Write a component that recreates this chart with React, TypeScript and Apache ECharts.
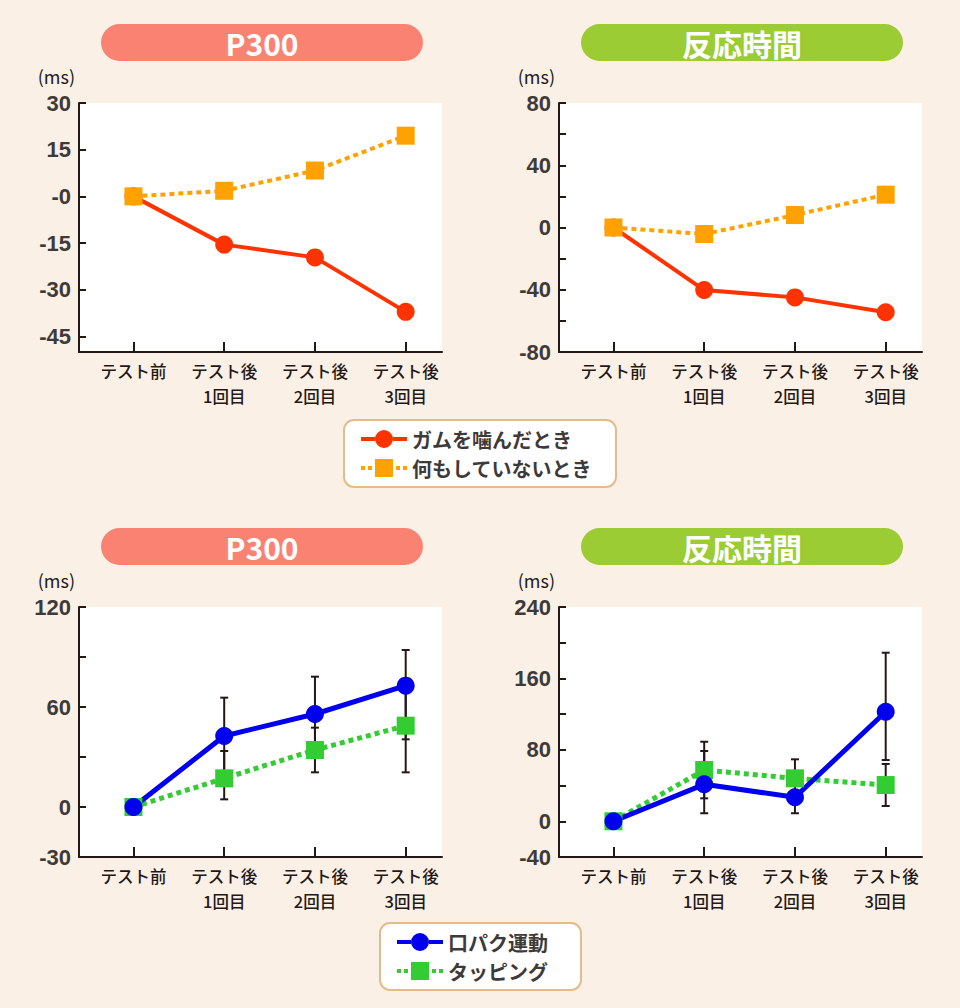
import React, { useEffect, useRef } from "react";
import * as echarts from "echarts";

// ---------- data ----------
const categories = ["テスト前", "テスト後\n1回目", "テスト後\n2回目", "テスト後\n3回目"];
const categoryPos = [0, 1, 2, 3];

// top charts
const gumP300 = [0, -15.5, -19.6, -37.1];
const restP300 = [0, 1.8, 8.3, 19.5];
const gumRT = [0, -40.2, -44.9, -54.5];
const restRT = [0, -4.2, 8.0, 21.1];

// bottom charts
const lipP300 = [0, 42.6, 55.8, 72.8];
const tapP300 = [0, 17.2, 34.2, 48.8];
const lipP300Low = [null, 19.6, 33.4, 40.6];
const lipP300High = [null, 65.6, 78.2, 94.2];
const tapP300Low = [null, 4.6, 20.8, 20.8];
const tapP300High = [null, 33.6, 47.6, 76.8];

const lipRT = [0, 41.4, 26.9, 122.7];
const tapRT = [0, 57.4, 48.1, 40.6];
const lipRTLow = [null, 9.0, 9.0, 68.6];
const lipRTHigh = [null, 78.7, 44.8, 188.8];
const tapRTLow = [null, 25.7, 26.8, 17.1];
const tapRTHigh = [null, 89.1, 69.4, 64.2];

// axis ticks / labels
const p300TopTicks = [30, 15, 0, -15, -30, -45];
const p300TopLabels = ["30", "15", "-0", "-15", "-30", "-45"];
const rtTopTicks = [80, 60, 40, 20, 0, -20, -40, -60, -80];
const rtTopLabels = [80, 40, 0, -40, -80];
const p300BotTicks = [120, 90, 60, 30, 0, -30];
const p300BotLabels = [120, 60, 0, -30];
const rtBotTicks = [240, 200, 160, 120, 80, 40, 0, -40];
const rtBotLabels = [240, 160, 80, 0, -40];

const titles = ["P300", "反応時間", "P300", "反応時間"];
const seriesNames = ["ガムを噛んだとき", "何もしていないとき", "口パク運動", "タッピング"];

// ---------- styles ----------
const AXIS = "#231815";
const NUM = "#3e3a39";
const RED = "#ff3300";
const ORANGE = "#ffa200";
const BLUE = "#0000ee";
const GREEN = "#33cc33";
const SALMON = "#fa8273";
const LIME = "#9bcc33";
const JP = '"Noto Sans CJK JP", sans-serif';

// legend icons (46 x 18 box)
const ICON_SOLID_CIRCLE =
  "path://M0,7H14V11H0Z M32,7H46V11H32Z M14,9a9,9 0 1,0 18,0a9,9 0 1,0 -18,0Z";
const ICON_DOTTED_SQUARE =
  "path://M0,7H4V11H0Z M7,7H11V11H7Z M14,0H32V18H14Z M35,7H39V11H35Z M42,7H46V11H42Z";

const grids = [
  { left: 79, top: 103, width: 363, height: 249 },
  { left: 559, top: 103, width: 363, height: 249 },
  { left: 79, top: 607, width: 363, height: 250 },
  { left: 559, top: 607, width: 363, height: 250 },
];

const yRanges = [
  { min: -50, max: 30, ticks: p300TopTicks, labels: p300TopTicks, fmt: (v: number) => p300TopLabels[p300TopTicks.indexOf(v)] ?? String(v) },
  { min: -80, max: 80, ticks: rtTopTicks, labels: rtTopLabels, fmt: (v: number) => String(v) },
  { min: -30, max: 120, ticks: p300BotTicks, labels: p300BotLabels, fmt: (v: number) => String(v) },
  { min: -40, max: 240, ticks: rtBotTicks, labels: rtBotLabels, fmt: (v: number) => String(v) },
];

const toPts = (arr: number[]) => arr.map((v, i) => [categoryPos[i], v]);
const toErr = (lo: (number | null)[], hi: (number | null)[]) =>
  lo
    .map((l, i) => (l === null || hi[i] === null ? null : [categoryPos[i], l, hi[i]]))
    .filter((d) => d !== null);

function errorSeries(idx: number, lo: (number | null)[], hi: (number | null)[]) {
  return {
    type: "custom",
    xAxisIndex: idx,
    yAxisIndex: idx,
    z: 1,
    silent: true,
    encode: { x: 0, y: [1, 2] },
    data: toErr(lo, hi),
    renderItem: (params: any, api: any) => {
      const x = api.value(0);
      const top = api.coord([x, api.value(2)]);
      const bot = api.coord([x, api.value(1)]);
      const w = 4;
      const st = { stroke: AXIS, lineWidth: 2 };
      return {
        type: "group",
        children: [
          { type: "line", shape: { x1: top[0], y1: top[1], x2: bot[0], y2: bot[1] }, style: st },
          { type: "line", shape: { x1: top[0] - w, y1: top[1], x2: top[0] + w, y2: top[1] }, style: st },
          { type: "line", shape: { x1: bot[0] - w, y1: bot[1], x2: bot[0] + w, y2: bot[1] }, style: st },
        ],
      };
    },
  };
}

function lineSeries(name: string, idx: number, data: number[], color: string, dotted: boolean, symbol: string, width: number) {
  return {
    name,
    type: "line",
    xAxisIndex: idx,
    yAxisIndex: idx,
    z: 3,
    data: toPts(data),
    symbol,
    symbolSize: 18,
    itemStyle: { color },
    lineStyle: { color, width, type: dotted ? [5, 4] : "solid", cap: "butt" },
  };
}

function pill(cx: number, y: number, text: string, color: string) {
  return {
    type: "group",
    children: [
      { type: "rect", shape: { x: cx - 161, y, width: 322, height: 37, r: 18.5 }, style: { fill: color } },
      {
        type: "text",
        x: cx,
        y: y + 19,
        style: {
          text,
          fill: "#ffffff",
          font: 'bold 30px "Noto Sans CJK JP", sans-serif',
          textAlign: "center",
          textVerticalAlign: "middle",
        },
      },
    ],
  };
}

function legendBox(names: string[], icons: string[], colors: string[], left: number, top: number, padRight: number) {
  return {
    data: names.map((n, i) => ({ name: n, icon: icons[i], itemStyle: { color: colors[i] } })),
    orient: "vertical",
    left,
    top,
    itemWidth: 46,
    itemHeight: 18,
    itemGap: 9,
    selectedMode: false,
    backgroundColor: "#ffffff",
    borderColor: "#e3bc8c",
    borderWidth: 2,
    borderRadius: 10,
    padding: [9, padRight, 9, 17],
    textStyle: { color: NUM, fontSize: 20, fontWeight: "bold", fontFamily: JP },
  };
}

export default function App() {
  const ref = useRef<HTMLDivElement>(null);
  useEffect(() => {
    if (!ref.current) return;
    const chart = echarts.init(ref.current, null, { renderer: "svg" });
    const option: any = {
      animation: false,
      backgroundColor: "#faf0e6",
      textStyle: { fontFamily: JP },
      grid: grids.map((g) => ({ ...g, show: true, backgroundColor: "#ffffff", borderWidth: 0, containLabel: false })),
      xAxis: grids.map((_, i) => ({
        type: "value",
        gridIndex: i,
        min: -0.6,
        max: 3.4,
        splitLine: { show: false },
        axisLine: { show: true, onZero: false, lineStyle: { color: AXIS, width: 2 } },
        axisTick: { show: true, inside: true, length: 10, customValues: categoryPos, lineStyle: { color: AXIS, width: 2 } },
        axisLabel: {
          customValues: categoryPos,
          formatter: (v: number) => categories[Math.round(v)],
          color: AXIS,
          fontSize: 16.5,
          fontWeight: 500,
          lineHeight: 25,
          margin: 6,
          fontFamily: JP,
        },
      })),
      yAxis: yRanges.map((r, i) => ({
        type: "value",
        gridIndex: i,
        min: r.min,
        max: r.max,
        name: "(ms)",
        nameLocation: "end",
        nameGap: 18,
        nameTextStyle: { color: AXIS, fontSize: 18, align: "right", padding: [0, 4, 0, 0], fontFamily: JP },
        splitLine: { show: false },
        axisLine: { show: true, onZero: false, lineStyle: { color: AXIS, width: 2 } },
        axisTick: { show: true, inside: true, length: 7, customValues: r.ticks, lineStyle: { color: AXIS, width: 2 } },
        axisLabel: {
          customValues: r.labels,
          formatter: r.fmt,
          color: NUM,
          fontSize: 22,
          fontWeight: "bold",
          margin: 8,
          fontFamily: '"Liberation Sans", Arial, sans-serif',
        },
      })),
      legend: [
        legendBox([seriesNames[0], seriesNames[1]], [ICON_SOLID_CIRCLE, ICON_DOTTED_SQUARE], [RED, ORANGE], 344, 420, 24),
        legendBox([seriesNames[2], seriesNames[3]], [ICON_SOLID_CIRCLE, ICON_DOTTED_SQUARE], [BLUE, GREEN], 380, 923, 33),
      ],
      graphic: [
        pill(262, 24, titles[0], SALMON),
        pill(742, 24, titles[1], LIME),
        pill(262, 528, titles[2], SALMON),
        pill(742, 528, titles[3], LIME),
      ],
      series: [
        lineSeries(seriesNames[0], 0, gumP300, RED, false, "circle", 4),
        lineSeries(seriesNames[1], 0, restP300, ORANGE, true, "rect", 4),
        lineSeries(seriesNames[0], 1, gumRT, RED, false, "circle", 4),
        lineSeries(seriesNames[1], 1, restRT, ORANGE, true, "rect", 4),
        errorSeries(2, lipP300Low, lipP300High),
        errorSeries(2, tapP300Low, tapP300High),
        lineSeries(seriesNames[3], 2, tapP300, GREEN, true, "rect", 5),
        lineSeries(seriesNames[2], 2, lipP300, BLUE, false, "circle", 5),
        errorSeries(3, lipRTLow, lipRTHigh),
        errorSeries(3, tapRTLow, tapRTHigh),
        lineSeries(seriesNames[3], 3, tapRT, GREEN, true, "rect", 5),
        lineSeries(seriesNames[2], 3, lipRT, BLUE, false, "circle", 5),
      ],
    };
    chart.setOption(option);
    return () => chart.dispose();
  }, []);
  return (
    <div
      ref={ref}
      style={{ position: "absolute", left: 0, top: 0, width: 960, height: 1008 }}
    />
  );
}
